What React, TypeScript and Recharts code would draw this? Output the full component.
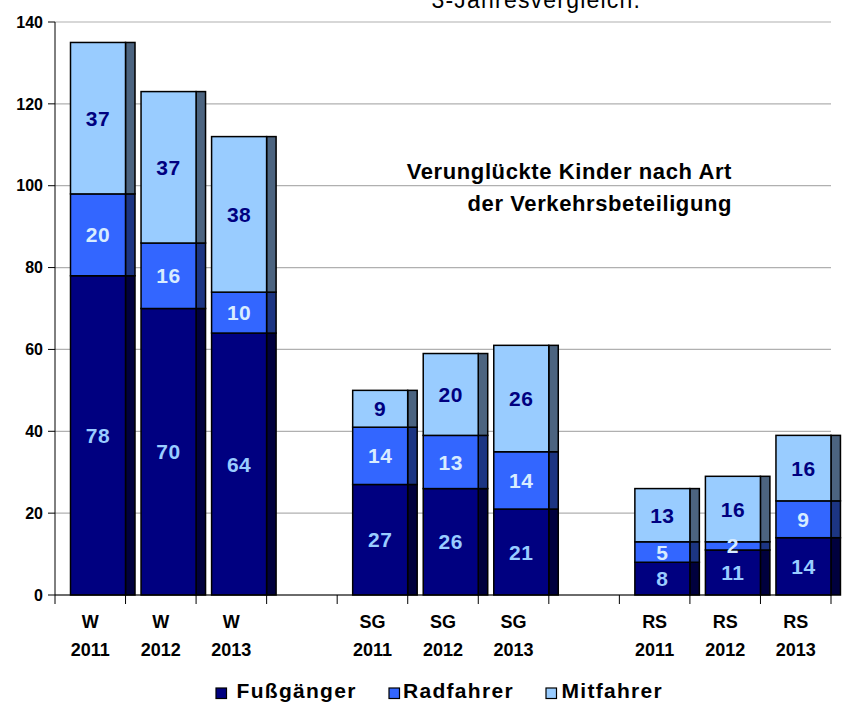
import { BarChart, Bar, XAxis, YAxis, CartesianGrid, LabelList } from "recharts";

// categories (empty slots are the gaps between the groups)
const regions = ["W", "W", "W", "", "SG", "SG", "SG", "", "RS", "RS", "RS"];
const years = ["2011", "2012", "2013", "", "2011", "2012", "2013", "", "2011", "2012", "2013"];

// values per series
const fussgaenger = [78, 70, 64, null, 27, 26, 21, null, 8, 11, 14];
const radfahrer = [20, 16, 10, null, 14, 13, 14, null, 5, 2, 9];
const mitfahrer = [37, 37, 38, null, 9, 20, 26, null, 13, 16, 16];

const yTicks = [0, 20, 40, 60, 80, 100, 120, 140];

const data = regions.map((r, i) => ({
  key: `${r}-${years[i]}-${i}`,
  fuss: fussgaenger[i],
  rad: radfahrer[i],
  mit: mitfahrer[i],
}));

const series = [
  { key: "fuss", name: "Fußgänger", fill: "#000080", side: "#00003d", label: "#99ccff" },
  { key: "rad", name: "Radfahrer", fill: "#3366ff", side: "#1c3583", label: "#d8ecff" },
  { key: "mit", name: "Mitfahrer", fill: "#99ccff", side: "#4c6480", label: "#000080" },
];

const FONT = "'Liberation Sans', Arial, sans-serif";
const W = 843;
const H = 702;
const M = { top: 22, right: 12, left: 0, bottom: 37 };
const Y_W = 55;
const HALF = (W - M.right - Y_W) / regions.length / 2;
const SHIFT = 7.5; // bars sit right of the slot centre (3D look)
const DEPTH = 9.5;

const makeShape = (fill: string, side: string) => (p: any) => {
  const { x, y, width, height } = p;
  if (!height || height <= 0) return null;
  const fx = x + SHIFT;
  return (
    <g>
      <rect x={fx + width} y={y} width={DEPTH} height={height} fill={side} stroke="#000" strokeWidth={1.5} />
      <rect x={fx} y={y} width={width} height={height} fill={fill} stroke="#000" strokeWidth={1.5} />
    </g>
  );
};

const makeLabel = (color: string) => (p: any) => {
  const vb = p.viewBox ?? p;
  if (p.value == null) return null;
  return (
    <text
      x={vb.x + SHIFT + vb.width / 2}
      y={vb.y + vb.height / 2}
      dy="0.36em"
      textAnchor="middle"
      fill={color}
      fontSize={21}
      fontWeight="bold"
      fontFamily={FONT}
      letterSpacing={0.5}
    >
      {p.value}
    </text>
  );
};

function XTick(p: any) {
  const { x, y } = p;
  const i = p.payload?.index ?? p.index;
  const last = i === regions.length - 1;
  return (
    <g>
      <line x1={x - HALF} x2={x - HALF} y1={y} y2={y + 9} stroke="#000" />
      {last && <line x1={x + HALF} x2={x + HALF} y1={y} y2={y + 9} stroke="#000" />}
      <text x={x} y={y + 33} textAnchor="middle" fontSize={18} fontWeight="bold" fontFamily={FONT} fill="#000">
        {regions[i]}
      </text>
      <text x={x} y={y + 61} textAnchor="middle" fontSize={18} fontWeight="bold" fontFamily={FONT} fill="#000">
        {years[i]}
      </text>
    </g>
  );
}

const legendPos = [
  { sq: 216, tx: 236.5 },
  { sq: 389, tx: 403 },
  { sq: 546, tx: 561.5 },
];

export default function App() {
  return (
    <div style={{ position: "absolute", left: 0, top: 0, width: W, height: H, background: "#fff" }}>
      <BarChart width={W} height={H} data={data} margin={M} barSize={55}>
        <CartesianGrid vertical={false} stroke="#b0b0b0" strokeWidth={1.2} />
        <XAxis
          dataKey="key"
          tick={<XTick />}
          tickLine={false}
          tickSize={0}
          tickMargin={0}
          interval={0}
          height={70}
          axisLine={{ stroke: "#000" }}
        />
        <YAxis
          width={Y_W}
          domain={[0, 140]}
          ticks={yTicks}
          interval={0}
          tickSize={7}
          tickMargin={5}
          tickLine={{ stroke: "#000" }}
          axisLine={{ stroke: "#000" }}
          tick={{ fill: "#000", fontSize: 16, fontWeight: "bold", fontFamily: FONT }}
        />
        {series.map((s) => (
          <Bar
            key={s.key}
            dataKey={s.key}
            name={s.name}
            stackId="a"
            fill={s.fill}
            shape={makeShape(s.fill, s.side)}
            isAnimationActive={false}
          >
            <LabelList dataKey={s.key} content={makeLabel(s.label)} />
          </Bar>
        ))}
      </BarChart>
      <svg width={W} height={H} style={{ position: "absolute", left: 0, top: 0, pointerEvents: "none" }}>
        <text x={431.5} y={8} fontSize={23} fontFamily={FONT} letterSpacing={1.2} fill="#000">
          3-Jahresvergleich.
        </text>
        <text x={732} y={179} textAnchor="end" fontSize={22} fontWeight="bold" fontFamily={FONT} letterSpacing={0.6} fill="#000">
          Verunglückte Kinder nach Art
        </text>
        <text x={732} y={211} textAnchor="end" fontSize={22} fontWeight="bold" fontFamily={FONT} letterSpacing={0.6} fill="#000">
          der Verkehrsbeteiligung
        </text>
        {series.map((s, i) => (
          <g key={s.key}>
            <rect x={legendPos[i].sq} y={688} width={10.5} height={10.5} fill={s.fill} stroke="#000" strokeWidth={1.2} />
            <text x={legendPos[i].tx} y={698} fontSize={21} fontWeight="bold" fontFamily={FONT} letterSpacing={1.3} fill="#000">
              {s.name}
            </text>
          </g>
        ))}
      </svg>
    </div>
  );
}
